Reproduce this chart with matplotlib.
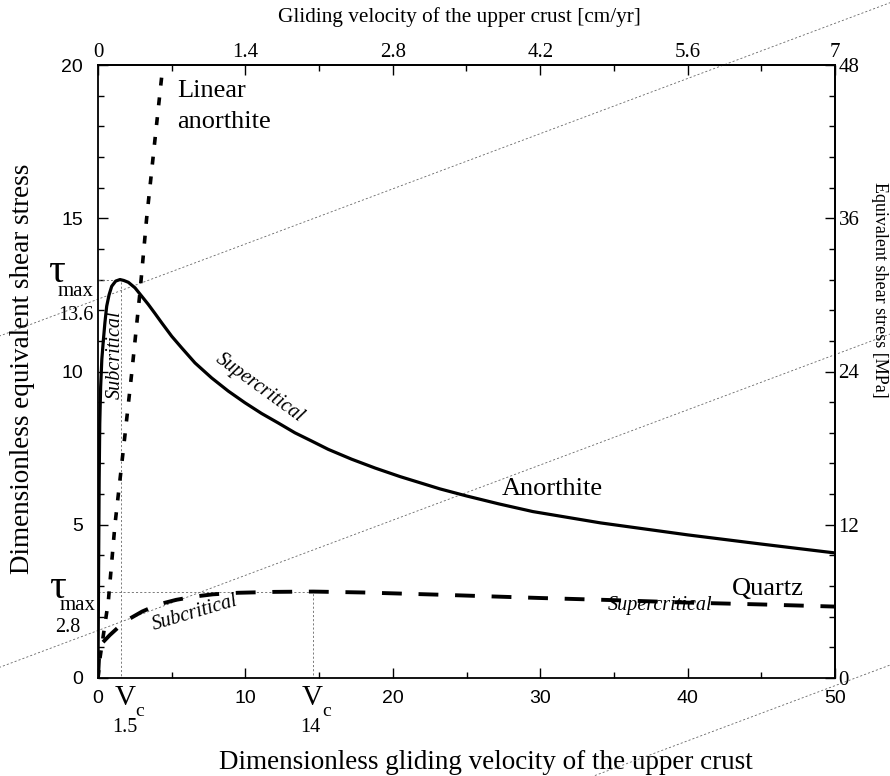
import numpy as np
import matplotlib
matplotlib.use("Agg")
import matplotlib.pyplot as plt
from matplotlib.ticker import MultipleLocator

plt.rcParams["font.family"] = ["Liberation Serif", "DejaVu Serif"]

# ---- data ----
anorthite_v = [0, 0.04, 0.08, 0.12, 0.18, 0.26, 0.36, 0.47, 0.59, 0.75, 0.93, 1.2, 1.49,
               1.75, 2.06, 2.51, 2.96, 3.41, 3.87, 4.32, 5.0, 5.68, 6.58, 7.71, 8.84,
               9.97, 11.1, 12.23, 13.36, 14.5, 15.62, 17.2, 18.8, 20.5, 23.2, 25.0,
               27.2, 29.5, 34.1, 40.0, 45.0, 50.0]
anorthite_tau = [0, 3.5, 6.5, 8.3, 9.5, 10.4, 11.0, 11.6, 12.13, 12.5, 12.78, 12.95, 13.0,
                 12.97, 12.91, 12.73, 12.46, 12.19, 11.89, 11.59, 11.15, 10.77, 10.28,
                 9.79, 9.36, 8.98, 8.63, 8.32, 8.0, 7.73, 7.46, 7.14, 6.85, 6.57, 6.17,
                 5.94, 5.68, 5.43, 5.06, 4.67, 4.37, 4.08]

linear_v = [0, 0.15, 0.7, 1.15, 1.8, 2.3, 2.85, 3.3, 3.85, 4.45]
linear_tau = [0, 0.7, 2.5, 5.0, 7.8, 10.0, 12.6, 15.0, 17.5, 20.2]

quartz_v = [0, 0.08, 0.3, 0.8, 1.8, 3.0, 4.1, 5.3, 6.6, 7.8, 9.5, 12, 14.6,
            18, 23, 30, 35, 40, 45, 50]
quartz_tau = [0, 0.75, 1.15, 1.4, 1.84, 2.17, 2.4, 2.55, 2.66, 2.73, 2.78, 2.81, 2.82,
              2.79, 2.72, 2.61, 2.54, 2.46, 2.4, 2.33]

vc_anorthite, tau_anorthite = 1.55, 13.0
vc_quartz, tau_quartz = 14.6, 2.8

ref_slope = 0.18
ref_intercepts = [12.36, 1.55, -9.25]

top_ticks = [0, 1.4, 2.8, 4.2, 5.6, 7]
top_labels = ["0", "1.4", "2.8", "4.2", "5.6", "7"]
right_ticks = [0, 12, 24, 36, 48]

# ---- figure ----
fig = plt.figure(figsize=(8.9, 7.76), dpi=100)
ax = fig.add_axes([98 / 890, 98 / 776, 737 / 890, 613 / 776])

thin = dict(color="0.4", lw=0.6, ls=(0, (2.5, 2.5)))

# slanted reference lines running past the frame
xs = np.array([-7.0, 57.0])
for b in ref_intercepts:
    ax.plot(xs, ref_slope * xs + b, clip_on=False, **thin)

# critical velocity guides
ax.plot([0, vc_anorthite, vc_anorthite], [tau_anorthite, tau_anorthite, 0], **thin)
ax.plot([0, vc_quartz, vc_quartz], [tau_quartz, tau_quartz, 0], **thin)

ax.plot(anorthite_v, anorthite_tau, color="k", lw=2.3, solid_joinstyle="round")
ax.plot(linear_v, linear_tau, color="k", lw=2.6, dashes=(2.2, 3.3))
ax.plot(quartz_v, quartz_tau, color="k", lw=2.8, dashes=(5.1, 4.3))

ax.set_xlim(0, 50)
ax.set_ylim(0, 20)
ax.xaxis.set_major_locator(MultipleLocator(10))
ax.xaxis.set_minor_locator(MultipleLocator(5))
ax.yaxis.set_major_locator(MultipleLocator(5))
ax.yaxis.set_minor_locator(MultipleLocator(1))
ax.tick_params(which="both", direction="in", width=1.0, labelfontfamily="Liberation Sans")
ax.tick_params(which="major", length=7, labelsize=14)
ax.tick_params(which="minor", length=4)
ax.tick_params(axis="x", pad=8.6)
ax.tick_params(axis="y", pad=10.8)
for s in ax.spines.values():
    s.set_linewidth(1.3)

secx = ax.secondary_xaxis("top", functions=(lambda v: v * 7 / 50, lambda v: v * 50 / 7))
secx.set_xticks(top_ticks, top_labels)
secx.xaxis.set_minor_locator(MultipleLocator(0.7))
secx.tick_params(which="both", direction="in", width=1.0, labelsize=15, pad=1.8)
secx.tick_params(which="major", length=7)
secx.tick_params(which="minor", length=4)
secx.spines["top"].set_linewidth(1.3)

secy = ax.secondary_yaxis("right", functions=(lambda t: t * 2.4, lambda t: t / 2.4))
secy.set_yticks(right_ticks)
secy.yaxis.set_minor_locator(MultipleLocator(2.4))
secy.tick_params(which="both", direction="in", width=1.0, labelsize=15, pad=2.5)
secy.tick_params(which="major", length=7)
secy.tick_params(which="minor", length=4)
secy.spines["right"].set_linewidth(1.3)

ax.set_xlabel("Dimensionless gliding velocity of the upper crust", fontsize=19.5)
ax.xaxis.set_label_coords(0.526, -0.117)
ax.set_ylabel("Dimensionless equivalent shear stress", fontsize=19.5)
ax.yaxis.set_label_coords(-0.0855, 0.504)
ax.text(0.49, 1.078, "Gliding velocity of the upper crust [cm/yr]", transform=ax.transAxes,
        ha="center", va="center", fontsize=15.3)
ax.text(1.061, 0.633, "Equivalent shear stress [MPa]", transform=ax.transAxes,
        rotation=270, ha="center", va="center", fontsize=13)

# ---- annotations ----
ax.text(5.36, 18.96, "Linear", fontsize=19)
ax.text(5.36, 17.94, "anorthite", fontsize=19)
ax.text(27.4, 5.97, "Anorthite", fontsize=19)
ax.text(43.0, 2.71, "Quartz", fontsize=19)

it = dict(style="italic", fontsize=14.5, ha="center", va="center", rotation_mode="anchor")
ax.text(38.1, 2.36, "Supercritical", **it)
ax.text(6.58, 2.12, "Subcritical", rotation=16.5, **it)
ax.text(11.0, 9.46, "Supercritical", rotation=-36, **it)
ax.text(1.15, 10.54, "Subcritical", rotation=90, **it)

c = dict(ha="center", va="center")
ax.text(-2.85, 13.25, "τ", fontsize=30, **c)
ax.text(-1.49, 12.6, "max", fontsize=15, **c)
ax.text(-1.49, 11.84, "13.6", fontsize=14.5, **c)
ax.text(-2.78, 2.95, "τ", fontsize=30, **c)
ax.text(-1.36, 2.35, "max", fontsize=15, **c)
ax.text(-2.04, 1.66, "2.8", fontsize=14.5, **c)

ax.text(1.83, -0.65, "V", fontsize=21, **c)
ax.text(2.85, -1.08, "c", fontsize=14, **c)
ax.text(1.83, -1.6, "1.5", fontsize=14.5, **c)
ax.text(14.52, -0.65, "V", fontsize=21, **c)
ax.text(15.54, -1.08, "c", fontsize=14, **c)
ax.text(14.38, -1.6, "14", fontsize=14.5, **c)

fig.savefig("out.png", dpi=100)
